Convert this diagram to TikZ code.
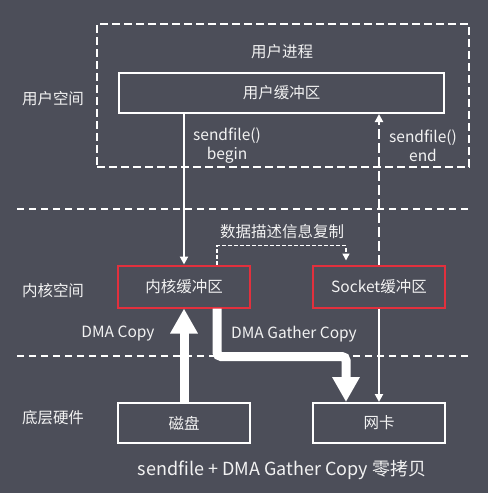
\documentclass[tikz,border=0pt]{standalone}
\usepackage{fontspec}
\setmainfont{Noto Sans CJK SC}
\usetikzlibrary{arrows.meta}
\definecolor{bgc}{HTML}{4C4E59}
\definecolor{txt}{HTML}{F2F2F2}
\definecolor{redline}{HTML}{E2303D}
\begin{document}
\begin{tikzpicture}[x=1pt,y=-1pt,
  every node/.style={text=txt,font=\fontsize{15.5}{19}\selectfont},
  box/.style={draw=white,line width=2pt,inner sep=0pt,minimum width=132pt,minimum height=40pt},
  redbox/.style={box,draw=redline,minimum height=42pt},
  divider/.style={white,line width=2.5pt,dash pattern=on 7pt off 5pt},
  thinarrow/.style={white,line width=2pt,-{Triangle[width=8pt,length=8pt]}},
  fatarrow/.style={white,line width=9pt,-{Triangle[width=26pt,length=25pt]}}]
\fill[bgc] (0,0) rectangle (488,493);
\node[draw=white,line width=2pt,dash pattern=on 8pt off 4pt,minimum width=372pt,minimum height=143pt] (proc) at (283,95.5) {};
\node (proctitle) at (282,52) {用户进程};
\node[box,minimum width=325pt] (ubuf) at (281.5,93) {用户缓冲区};
\node[redbox] (kbuf) at (184,286.5) {内核缓冲区};
\node[redbox] (sbuf) at (379,286.5) {Socket缓冲区};
\node[box] (disk) at (184,423) {磁盘};
\node[box] (nic) at (379,423) {网卡};
\node (userspace) at (53,99) {用户空间};
\node (kernelspace) at (53,291) {内核空间};
\node (hardware) at (53,418) {底层硬件};
\node[align=center] (begin) at (227,146) {sendfile()\\begin};
\node[align=center] (end) at (423,146) {sendfile()\\end};
\node (desc) at (282,232) {数据描述信息复制};
\node (dmacopy) at (118,334) {DMA Copy};
\node (gather) at (294,334) {DMA Gather Copy};
\node[font=\fontsize{18}{21}\selectfont] (caption) at (282,470) {sendfile + DMA Gather Copy 零拷贝};
\draw[divider] (17,209) -- (470,209);
\draw[divider] (17,356) -- (470,356);
\draw[thinarrow] (kbuf.north |- ubuf.south) -- (kbuf.north);
\draw[thinarrow,line width=2.5pt,dash pattern=on 10pt off 4pt] (sbuf.north) -- (sbuf.north |- ubuf.south);
\draw[white,line width=1.5pt,dash pattern=on 4pt off 2pt,-{Triangle[width=7pt,length=7pt]}] ([xshift=33pt]kbuf.north) -- ++(0,-19) -| ([xshift=-33pt,yshift=4pt]sbuf.north);
\draw[thinarrow] (sbuf.south) -- (nic.north);
\draw[fatarrow] (disk.north) -- (kbuf.south);
\draw[fatarrow,rounded corners=4pt] ([xshift=33pt]kbuf.south) -- ++(0,48) -| ([xshift=-33pt]nic.north);
\end{tikzpicture}
\end{document}
